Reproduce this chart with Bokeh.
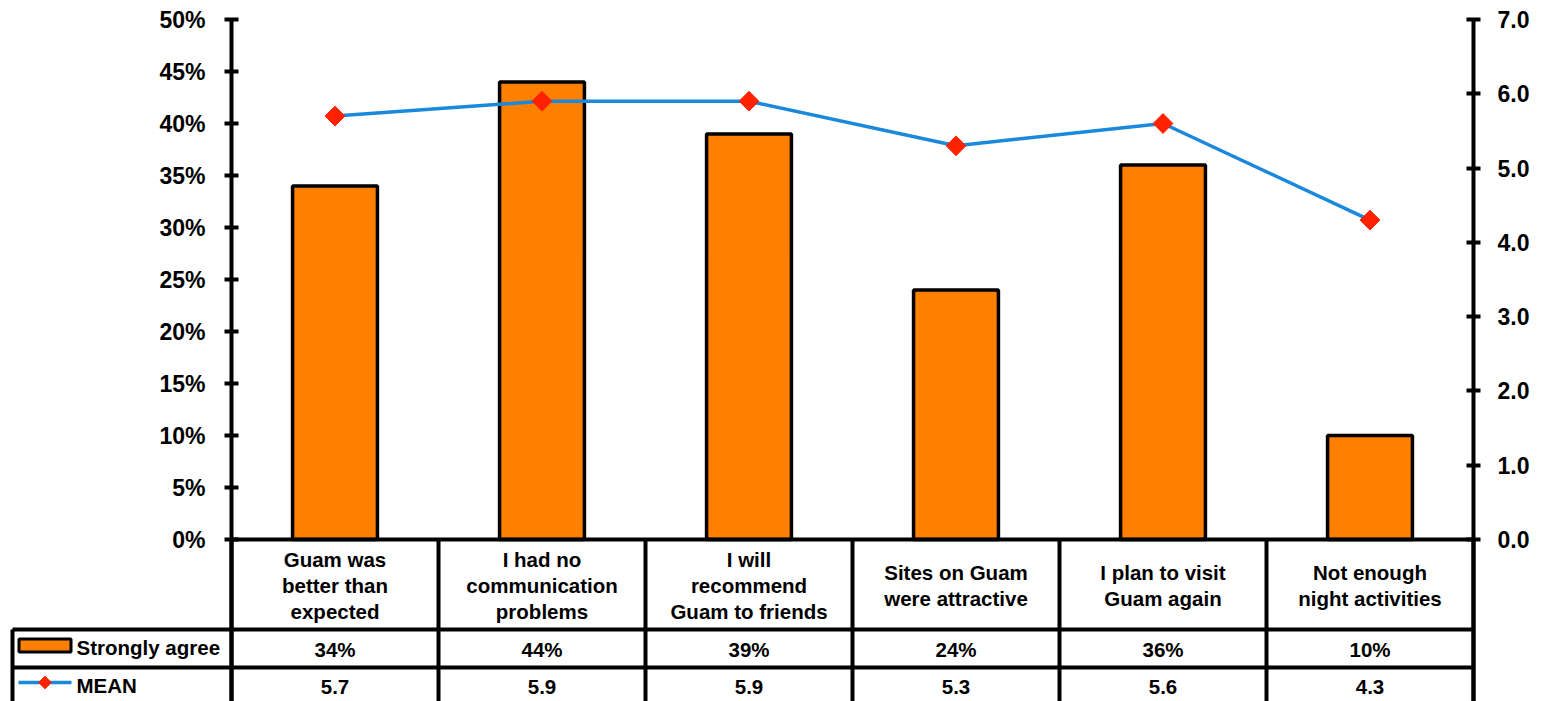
import numpy as np
from bokeh.plotting import figure
from bokeh.models import Range1d, LinearAxis, FixedTicker, PrintfTickFormatter
from bokeh.core.properties import value
from bokeh.embed import file_html
from bokeh.resources import INLINE

# ---------------- data ----------------
categories = [
    "Guam was\nbetter than\nexpected",
    "I had no\ncommunication\nproblems",
    "I will\nrecommend\nGuam to friends",
    "Sites on Guam\nwere attractive",
    "I plan to visit\nGuam again",
    "Not enough\nnight activities",
]
strongly_agree = [34, 44, 39, 24, 36, 10]
mean_score = [5.7, 5.9, 5.9, 5.3, 5.6, 4.3]
pct_ticks = [0, 5, 10, 15, 20, 25, 30, 35, 40, 45, 50]
mean_ticks = [0, 1, 2, 3, 4, 5, 6, 7]
series_names = ["Strongly agree", "MEAN"]

# ---------------- styles ----------------
ORANGE = "#FF8000"
BLUE = "#1A88DB"
RED = "#FF2200"
FONT = "Liberation Sans"

# ---------------- layout (pixels on the page) ----------------
W, H = 1543, 701
PLOT_L, PLOT_R, PLOT_T, PLOT_B = 231, 1473, 19, 539
HEAD_B, ROW1_B, TABLE_L = 629, 667, 12
n = len(categories)
ux = (PLOT_R - PLOT_L) / n          # px per category
uy = (PLOT_B - PLOT_T) / pct_ticks[-1]  # px per percent


def dx(px):
    return (px - PLOT_L) / ux


def dy(px):
    return (PLOT_B - px) / uy


x0, x1 = dx(0), dx(W)
y0, y1 = dy(H), dy(0)
scale_mean = mean_ticks[-1] / pct_ticks[-1]

p = figure(width=W, height=H, output_backend="svg", toolbar_location=None,
           x_range=Range1d(x0, x1), y_range=Range1d(y0, y1),
           x_axis_location=None, y_axis_location=None,
           min_border_left=0, min_border_right=0, min_border_bottom=0,
           min_border_top=0)
p.extra_y_ranges = {"mean": Range1d(y0 * scale_mean, y1 * scale_mean)}
p.outline_line_color = None
p.background_fill_color = "white"
p.border_fill_color = "white"
p.grid.visible = False


def style_axis(ax, standoff):
    ax.axis_line_width = 4
    ax.axis_line_color = "black"
    ax.major_tick_line_width = 4
    ax.major_tick_in = 7
    ax.major_tick_out = 7
    ax.minor_tick_line_color = None
    ax.major_label_standoff = standoff
    ax.major_label_text_font = FONT
    ax.major_label_text_font_style = "bold"
    ax.major_label_text_font_size = "23px"
    ax.major_label_text_color = "black"


left = LinearAxis(fixed_location=0, ticker=FixedTicker(ticks=pct_ticks),
                  formatter=PrintfTickFormatter(format="%d%%"),
                  bounds=(y0, pct_ticks[-1]))
style_axis(left, 19)
p.add_layout(left, "left")

right = LinearAxis(fixed_location=n, y_range_name="mean",
                   ticker=FixedTicker(ticks=mean_ticks),
                   formatter=PrintfTickFormatter(format="%.1f"),
                   bounds=(y0 * scale_mean, mean_ticks[-1]))
style_axis(right, 17)
p.add_layout(right, "right")

xc = [i + 0.5 for i in range(n)]

# bars
p.vbar(x=xc, top=strongly_agree, bottom=0, width=0.41,
       fill_color=ORANGE, line_color="black", line_width=3.5)

# mean line
p.line(xc, mean_score, y_range_name="mean", line_color=BLUE, line_width=3.5)
p.scatter(xc, mean_score, y_range_name="mean", marker="square", angle=np.pi / 4,
          size=14, fill_color=RED, line_color=RED)

# ---------------- data table ----------------
yh, yr1 = dy(HEAD_B), dy(ROW1_B)
xl = dx(TABLE_L)
hx0 = [0, xl, xl] + list(range(n + 1)) + [xl]
hx1 = [n, n, n] + list(range(n + 1)) + [xl]
hy0 = [0, yh, yr1] + [0] * (n + 1) + [yh]
hy1 = [0, yh, yr1] + [y0] * (n + 1) + [y0]
p.segment(x0=hx0, y0=hy0, x1=hx1, y1=hy1, line_color="black", line_width=4)

txt = dict(text_font=value(FONT), text_font_style="bold", text_font_size="20.5px",
           text_color="black", text_baseline="middle")
p.text(x=xc, y=[dy(585)] * n, text=categories, text_align="center",
       text_line_height=1.12, **txt)
p.text(x=xc, y=[dy(649)] * n, text=[f"{v}%" for v in strongly_agree],
       text_align="center", **txt)
p.text(x=xc, y=[dy(686)] * n, text=[f"{v:.1f}" for v in mean_score],
       text_align="center", **txt)
p.text(x=[dx(76)] * 2, y=[dy(647), dy(685)], text=series_names,
       text_align="left", **txt)

# legend keys in row headers
p.rect(x=[dx(44.5)], y=[dy(645)], width=52, height=13, width_units="screen",
       height_units="screen", fill_color=ORANGE, line_color="black", line_width=3)
p.segment(x0=[dx(18)], y0=[dy(682)], x1=[dx(71)], y1=[dy(682)],
          line_color=BLUE, line_width=3.5)
p.scatter(x=[dx(44.5)], y=[dy(682)], marker="square", angle=np.pi / 4, size=9,
          fill_color=RED, line_color=RED)

open("out.html", "w").write(file_html(p, INLINE))
